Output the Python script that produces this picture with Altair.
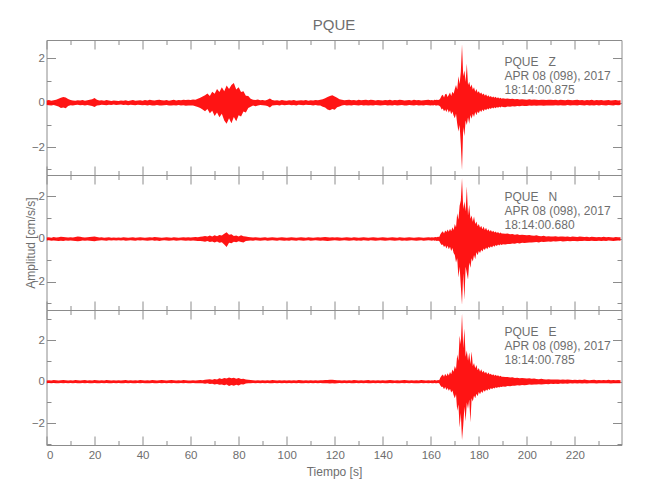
import altair as alt
import pandas as pd

# ---------------- text / axis data ----------------
TITLE = "PQUE"
STATION = "PQUE"
COMPONENTS = ["Z", "N", "E"]
DATE_LABEL = "APR 08 (098), 2017"
START_TIMES = ["18:14:00.875", "18:14:00.680", "18:14:00.785"]
X_TITLE = "Tiempo [s]"
Y_TITLE = "Amplitud [cm/s/s]"
X_DOMAIN = [0, 239.4]
Y_DOMAINS = [[-3.26, 2.83], [-3.32, 2.99], [-3.04, 3.44]]
X_LABEL_TICKS = [0, 20, 40, 60, 80, 100, 120, 140, 160, 180, 200, 220]
X_TICKS = [0, 10, 20, 30, 40, 50, 60, 70, 80, 90, 100, 110, 120, 130, 140,
           150, 160, 170, 180, 190, 200, 210, 220, 230]
Y_LABEL_TICKS = [-2, 0, 2]
Y_TICKS = [-3, -2, -1, 0, 1, 2, 3]

# ---------------- sampling times (s) ----------------
TIME = list(range(0, 160)) + [160 + 0.5 * i for i in range(60)] + list(range(190, 240))

# ---------------- envelope values ----------------
Z_UP = [
    0.10, 0.12, 0.09, 0.11, 0.13, 0.18, 0.22, 0.26, 0.24, 0.17,
    0.12, 0.10, 0.09, 0.11, 0.10, 0.12, 0.09, 0.11, 0.13, 0.16,
    0.21, 0.14, 0.10, 0.11, 0.09, 0.12, 0.10, 0.08, 0.10, 0.09,
    0.08, 0.10, 0.09, 0.11, 0.08, 0.10, 0.12, 0.09, 0.10, 0.11,
    0.09, 0.12, 0.10, 0.13, 0.11, 0.10, 0.12, 0.14, 0.11, 0.10,
    0.12, 0.09, 0.11, 0.13, 0.10, 0.12, 0.11, 0.14, 0.12, 0.13,
    0.12, 0.15, 0.14, 0.18, 0.22, 0.28, 0.34, 0.42, 0.30, 0.50,
    0.40, 0.62, 0.48, 0.70, 0.52, 0.78, 0.62, 0.80, 0.89, 0.60,
    0.70, 0.48, 0.52, 0.32, 0.30, 0.18, 0.14, 0.12, 0.15, 0.11,
    0.12, 0.10, 0.14, 0.19, 0.12, 0.10, 0.11, 0.09, 0.12, 0.10,
    0.09, 0.11, 0.10, 0.12, 0.09, 0.10, 0.11, 0.10, 0.12, 0.09,
    0.11, 0.10, 0.12, 0.11, 0.14, 0.16, 0.20, 0.26, 0.30, 0.34,
    0.28, 0.22, 0.16, 0.13, 0.11, 0.12, 0.14, 0.11, 0.12, 0.10,
    0.13, 0.11, 0.12, 0.14, 0.11, 0.13, 0.12, 0.10, 0.12, 0.11,
    0.10, 0.12, 0.11, 0.13, 0.10, 0.12, 0.11, 0.13, 0.12, 0.10,
    0.11, 0.12, 0.10, 0.13, 0.11, 0.12, 0.10, 0.11, 0.12, 0.13,
    # 160 - 189.5 (every 0.5 s)
    0.11, 0.12, 0.10, 0.13, 0.12, 0.14, 0.12, 0.13, 0.20, 0.32,
    0.36, 0.24, 0.38, 0.40, 0.26, 0.36, 0.46, 0.30, 0.50, 0.40,
    0.62, 0.80, 0.60, 1.20, 0.85, 1.40, 2.64, 1.20, 1.45, 0.95,
    1.77, 0.80, 0.95, 0.70, 0.82, 0.60, 0.70, 0.50, 0.62, 0.45,
    0.52, 0.40, 0.46, 0.36, 0.42, 0.32, 0.38, 0.28, 0.34, 0.26,
    0.30, 0.24, 0.28, 0.22, 0.27, 0.20, 0.25, 0.19, 0.23, 0.18,
    # 190 - 239
    0.20, 0.18, 0.19, 0.17, 0.18, 0.16, 0.17, 0.15, 0.16, 0.15,
    0.14, 0.16, 0.13, 0.15, 0.14, 0.12, 0.14, 0.13, 0.12, 0.14,
    0.13, 0.12, 0.14, 0.11, 0.13, 0.12, 0.11, 0.13, 0.12, 0.11,
    0.12, 0.13, 0.11, 0.12, 0.10, 0.12, 0.11, 0.13, 0.10, 0.12,
    0.11, 0.12, 0.10, 0.11, 0.12, 0.10, 0.11, 0.12, 0.10, 0.11,
]
Z_LO = [
    -0.10, -0.11, -0.12, -0.10, -0.14, -0.17, -0.24, -0.21, -0.25, -0.15,
    -0.11, -0.12, -0.10, -0.09, -0.11, -0.10, -0.12, -0.10, -0.12, -0.15,
    -0.19, -0.13, -0.11, -0.09, -0.10, -0.11, -0.09, -0.10, -0.08, -0.10,
    -0.09, -0.08, -0.10, -0.09, -0.11, -0.09, -0.10, -0.11, -0.09, -0.10,
    -0.11, -0.10, -0.12, -0.10, -0.12, -0.13, -0.10, -0.12, -0.13, -0.11,
    -0.10, -0.12, -0.13, -0.11, -0.12, -0.10, -0.13, -0.11, -0.14, -0.12,
    -0.13, -0.12, -0.16, -0.19, -0.24, -0.30, -0.38, -0.28, -0.48, -0.36,
    -0.60, -0.44, -0.66, -0.50, -0.80, -0.95, -0.70, -0.92, -0.64, -0.84,
    -0.56, -0.62, -0.40, -0.44, -0.24, -0.18, -0.13, -0.16, -0.12, -0.10,
    -0.11, -0.12, -0.15, -0.21, -0.13, -0.11, -0.10, -0.12, -0.09, -0.11,
    -0.10, -0.09, -0.11, -0.10, -0.12, -0.09, -0.10, -0.11, -0.09, -0.10,
    -0.10, -0.12, -0.10, -0.13, -0.12, -0.18, -0.22, -0.30, -0.34, -0.28,
    -0.32, -0.20, -0.17, -0.12, -0.10, -0.13, -0.11, -0.12, -0.10, -0.11,
    -0.12, -0.10, -0.13, -0.11, -0.12, -0.11, -0.13, -0.10, -0.11, -0.12,
    -0.11, -0.10, -0.12, -0.11, -0.13, -0.10, -0.12, -0.11, -0.10, -0.12,
    -0.12, -0.10, -0.11, -0.12, -0.10, -0.13, -0.11, -0.12, -0.10, -0.11,
    # 160 - 189.5
    -0.12, -0.11, -0.13, -0.10, -0.12, -0.13, -0.11, -0.14, -0.18, -0.30,
    -0.26, -0.38, -0.30, -0.42, -0.28, -0.45, -0.34, -0.52, -0.40, -0.58,
    -0.70, -0.50, -0.95, -1.30, -1.00, -1.90, -3.05, -1.10, -1.50, -0.80,
    -1.00, -0.65, -0.95, -0.55, -0.72, -0.50, -0.64, -0.42, -0.56, -0.40,
    -0.48, -0.34, -0.42, -0.30, -0.38, -0.28, -0.34, -0.26, -0.30, -0.24,
    -0.28, -0.22, -0.26, -0.20, -0.25, -0.19, -0.23, -0.18, -0.22, -0.17,
    # 190 - 239
    -0.19, -0.20, -0.17, -0.18, -0.16, -0.17, -0.15, -0.16, -0.14, -0.15,
    -0.15, -0.13, -0.14, -0.12, -0.14, -0.13, -0.12, -0.14, -0.12, -0.13,
    -0.12, -0.13, -0.11, -0.12, -0.11, -0.13, -0.12, -0.10, -0.12, -0.11,
    -0.11, -0.12, -0.10, -0.11, -0.12, -0.10, -0.12, -0.11, -0.12, -0.10,
    -0.12, -0.10, -0.11, -0.12, -0.10, -0.11, -0.12, -0.10, -0.11, -0.10,
]

N_UP = [
    0.07, 0.08, 0.06, 0.09, 0.07, 0.08, 0.10, 0.09, 0.08, 0.07,
    0.08, 0.07, 0.09, 0.12, 0.10, 0.08, 0.07, 0.08, 0.09, 0.10,
    0.12, 0.09, 0.07, 0.08, 0.06, 0.07, 0.08, 0.06, 0.07, 0.06,
    0.07, 0.06, 0.08, 0.07, 0.06, 0.07, 0.08, 0.06, 0.07, 0.08,
    0.07, 0.06, 0.07, 0.08, 0.07, 0.09, 0.08, 0.07, 0.06, 0.07,
    0.08, 0.07, 0.06, 0.08, 0.07, 0.06, 0.07, 0.08, 0.07, 0.08,
    0.07, 0.08, 0.09, 0.08, 0.10, 0.12, 0.14, 0.11, 0.16, 0.12,
    0.17, 0.13, 0.18, 0.16, 0.24, 0.31, 0.20, 0.22, 0.14, 0.16,
    0.12, 0.17, 0.13, 0.11, 0.09, 0.08, 0.07, 0.08, 0.07, 0.06,
    0.07, 0.08, 0.06, 0.07, 0.08, 0.07, 0.06, 0.07, 0.08, 0.07,
    0.06, 0.07, 0.08, 0.07, 0.06, 0.07, 0.08, 0.07, 0.06, 0.08,
    0.07, 0.06, 0.07, 0.08, 0.07, 0.08, 0.09, 0.08, 0.07, 0.08,
    0.07, 0.08, 0.07, 0.06, 0.07, 0.08, 0.07, 0.06, 0.08, 0.07,
    0.06, 0.07, 0.08, 0.07, 0.06, 0.07, 0.08, 0.07, 0.06, 0.07,
    0.08, 0.07, 0.06, 0.07, 0.08, 0.07, 0.06, 0.08, 0.07, 0.06,
    0.07, 0.08, 0.07, 0.06, 0.07, 0.08, 0.07, 0.06, 0.07, 0.08,
    # 160 - 189.5
    0.07, 0.08, 0.07, 0.08, 0.09, 0.08, 0.10, 0.09, 0.22, 0.30,
    0.36, 0.26, 0.40, 0.32, 0.44, 0.34, 0.48, 0.36, 0.55, 0.42,
    0.70, 0.55, 1.20, 0.90, 1.55, 1.80, 2.85, 1.40, 1.75, 1.30,
    2.46, 1.10, 1.60, 0.95, 1.10, 0.80, 1.05, 0.70, 0.82, 0.60,
    0.70, 0.52, 0.62, 0.46, 0.58, 0.42, 0.52, 0.38, 0.46, 0.35,
    0.42, 0.32, 0.38, 0.30, 0.35, 0.28, 0.32, 0.26, 0.30, 0.25,
    # 190 - 239
    0.26, 0.24, 0.25, 0.22, 0.23, 0.20, 0.22, 0.19, 0.20, 0.18,
    0.17, 0.19, 0.16, 0.15, 0.17, 0.14, 0.13, 0.15, 0.12, 0.13,
    0.12, 0.11, 0.13, 0.10, 0.12, 0.11, 0.10, 0.12, 0.09, 0.11,
    0.10, 0.09, 0.11, 0.10, 0.09, 0.10, 0.08, 0.10, 0.09, 0.08,
    0.09, 0.08, 0.10, 0.08, 0.09, 0.08, 0.07, 0.09, 0.08, 0.08,
]
N_LO = [
    -0.07, -0.06, -0.08, -0.07, -0.08, -0.09, -0.08, -0.10, -0.07, -0.08,
    -0.07, -0.08, -0.10, -0.11, -0.09, -0.07, -0.08, -0.07, -0.08, -0.09,
    -0.11, -0.08, -0.07, -0.06, -0.07, -0.08, -0.06, -0.07, -0.06, -0.07,
    -0.06, -0.07, -0.06, -0.08, -0.07, -0.06, -0.07, -0.08, -0.06, -0.07,
    -0.06, -0.07, -0.08, -0.07, -0.06, -0.08, -0.07, -0.09, -0.07, -0.06,
    -0.07, -0.08, -0.07, -0.06, -0.08, -0.07, -0.06, -0.07, -0.08, -0.07,
    -0.08, -0.07, -0.08, -0.09, -0.09, -0.11, -0.13, -0.10, -0.14, -0.12,
    -0.16, -0.12, -0.18, -0.15, -0.26, -0.37, -0.18, -0.20, -0.13, -0.15,
    -0.11, -0.14, -0.16, -0.10, -0.08, -0.07, -0.08, -0.06, -0.07, -0.08,
    -0.07, -0.06, -0.08, -0.07, -0.06, -0.07, -0.08, -0.06, -0.07, -0.08,
    -0.07, -0.08, -0.06, -0.07, -0.08, -0.06, -0.07, -0.08, -0.07, -0.06,
    -0.08, -0.07, -0.06, -0.07, -0.08, -0.07, -0.08, -0.09, -0.08, -0.07,
    -0.06, -0.07, -0.08, -0.07, -0.06, -0.07, -0.08, -0.07, -0.06, -0.08,
    -0.07, -0.08, -0.06, -0.07, -0.08, -0.06, -0.07, -0.08, -0.07, -0.06,
    -0.07, -0.08, -0.07, -0.06, -0.07, -0.08, -0.07, -0.06, -0.08, -0.07,
    -0.08, -0.07, -0.06, -0.07, -0.08, -0.07, -0.06, -0.08, -0.07, -0.06,
    # 160 - 189.5
    -0.07, -0.08, -0.06, -0.08, -0.07, -0.09, -0.08, -0.10, -0.20, -0.28,
    -0.26, -0.38, -0.30, -0.44, -0.32, -0.48, -0.36, -0.56, -0.42, -0.66,
    -0.75, -1.10, -0.90, -1.80, -1.30, -2.20, -3.07, -1.60, -2.84, -1.30,
    -1.60, -1.90, -1.10, -1.35, -0.90, -1.05, -0.75, -0.95, -0.62, -0.76,
    -0.56, -0.66, -0.50, -0.58, -0.44, -0.52, -0.40, -0.48, -0.36, -0.42,
    -0.34, -0.40, -0.30, -0.36, -0.28, -0.33, -0.26, -0.30, -0.25, -0.28,
    # 190 - 239
    -0.25, -0.26, -0.23, -0.24, -0.21, -0.22, -0.19, -0.21, -0.18, -0.19,
    -0.18, -0.16, -0.17, -0.15, -0.14, -0.16, -0.13, -0.14, -0.13, -0.12,
    -0.13, -0.11, -0.12, -0.11, -0.10, -0.12, -0.11, -0.10, -0.11, -0.09,
    -0.10, -0.11, -0.09, -0.10, -0.08, -0.10, -0.09, -0.08, -0.09, -0.10,
    -0.08, -0.09, -0.08, -0.09, -0.07, -0.08, -0.09, -0.08, -0.07, -0.08,
]

E_UP = [
    0.06, 0.07, 0.06, 0.08, 0.07, 0.06, 0.07, 0.08, 0.07, 0.06,
    0.07, 0.06, 0.08, 0.07, 0.06, 0.07, 0.08, 0.06, 0.07, 0.06,
    0.08, 0.07, 0.06, 0.07, 0.06, 0.08, 0.07, 0.06, 0.07, 0.06,
    0.07, 0.06, 0.07, 0.08, 0.06, 0.07, 0.06, 0.07, 0.06, 0.08,
    0.07, 0.06, 0.07, 0.06, 0.08, 0.07, 0.06, 0.07, 0.08, 0.07,
    0.06, 0.07, 0.08, 0.07, 0.06, 0.07, 0.06, 0.08, 0.07, 0.06,
    0.06, 0.07, 0.06, 0.07, 0.08, 0.07, 0.09, 0.10, 0.12, 0.09,
    0.13, 0.11, 0.16, 0.13, 0.18, 0.15, 0.20, 0.16, 0.19, 0.14,
    0.18, 0.13, 0.14, 0.10, 0.09, 0.08, 0.07, 0.06, 0.07, 0.06,
    0.07, 0.06, 0.07, 0.06, 0.08, 0.07, 0.06, 0.07, 0.06, 0.07,
    0.06, 0.07, 0.06, 0.07, 0.06, 0.08, 0.07, 0.06, 0.07, 0.06,
    0.07, 0.06, 0.07, 0.06, 0.07, 0.07, 0.08, 0.08, 0.09, 0.09,
    0.08, 0.07, 0.07, 0.06, 0.07, 0.06, 0.07, 0.06, 0.08, 0.07,
    0.06, 0.07, 0.06, 0.07, 0.08, 0.06, 0.07, 0.06, 0.07, 0.06,
    0.07, 0.06, 0.07, 0.08, 0.07, 0.06, 0.07, 0.06, 0.07, 0.08,
    0.07, 0.06, 0.07, 0.06, 0.07, 0.06, 0.08, 0.07, 0.06, 0.07,
    # 160 - 189.5
    0.06, 0.07, 0.06, 0.08, 0.07, 0.06, 0.08, 0.07, 0.20, 0.28,
    0.34, 0.24, 0.38, 0.26, 0.40, 0.30, 0.46, 0.36, 0.58, 0.48,
    0.75, 0.60, 1.30, 1.00, 2.20, 1.80, 3.29, 1.60, 2.55, 1.20,
    1.50, 1.00, 1.40, 0.85, 1.45, 0.75, 0.90, 0.65, 0.80, 0.55,
    0.66, 0.48, 0.60, 0.44, 0.52, 0.40, 0.48, 0.36, 0.44, 0.34,
    0.38, 0.31, 0.36, 0.29, 0.33, 0.27, 0.31, 0.25, 0.28, 0.24,
    # 190 - 239
    0.24, 0.22, 0.23, 0.20, 0.21, 0.18, 0.19, 0.17, 0.18, 0.16,
    0.15, 0.16, 0.14, 0.15, 0.13, 0.12, 0.14, 0.12, 0.11, 0.12,
    0.11, 0.10, 0.11, 0.10, 0.09, 0.11, 0.09, 0.10, 0.09, 0.08,
    0.09, 0.08, 0.09, 0.08, 0.10, 0.08, 0.07, 0.08, 0.09, 0.07,
    0.08, 0.07, 0.08, 0.07, 0.09, 0.07, 0.08, 0.07, 0.08, 0.07,
]
E_LO = [
    -0.07, -0.06, -0.07, -0.06, -0.08, -0.07, -0.06, -0.07, -0.06, -0.08,
    -0.06, -0.07, -0.06, -0.08, -0.07, -0.06, -0.07, -0.06, -0.08, -0.07,
    -0.06, -0.07, -0.08, -0.06, -0.07, -0.06, -0.07, -0.08, -0.06, -0.07,
    -0.06, -0.08, -0.07, -0.06, -0.07, -0.06, -0.08, -0.07, -0.06, -0.07,
    -0.06, -0.07, -0.08, -0.07, -0.06, -0.07, -0.08, -0.06, -0.07, -0.06,
    -0.07, -0.06, -0.07, -0.06, -0.08, -0.07, -0.06, -0.07, -0.06, -0.07,
    -0.07, -0.06, -0.07, -0.08, -0.07, -0.08, -0.10, -0.08, -0.11, -0.10,
    -0.14, -0.11, -0.15, -0.13, -0.17, -0.14, -0.21, -0.16, -0.19, -0.15,
    -0.18, -0.12, -0.13, -0.09, -0.08, -0.07, -0.06, -0.07, -0.06, -0.07,
    -0.06, -0.07, -0.06, -0.08, -0.07, -0.06, -0.07, -0.06, -0.07, -0.06,
    -0.07, -0.06, -0.08, -0.06, -0.07, -0.06, -0.07, -0.08, -0.06, -0.07,
    -0.06, -0.07, -0.06, -0.07, -0.06, -0.08, -0.07, -0.08, -0.09, -0.08,
    -0.09, -0.07, -0.06, -0.07, -0.06, -0.07, -0.06, -0.08, -0.07, -0.06,
    -0.07, -0.06, -0.07, -0.06, -0.07, -0.08, -0.06, -0.07, -0.06, -0.07,
    -0.06, -0.07, -0.08, -0.06, -0.07, -0.06, -0.07, -0.08, -0.06, -0.07,
    -0.06, -0.07, -0.06, -0.07, -0.08, -0.07, -0.06, -0.07, -0.06, -0.07,
    # 160 - 189.5
    -0.06, -0.07, -0.08, -0.06, -0.07, -0.08, -0.06, -0.07, -0.18, -0.26,
    -0.24, -0.36, -0.26, -0.40, -0.30, -0.44, -0.34, -0.52, -0.42, -0.64,
    -0.80, -0.60, -1.40, -1.10, -2.20, -1.50, -2.80, -2.10, -1.20, -1.90,
    -1.00, -1.30, -0.85, -1.95, -0.80, -0.95, -0.66, -0.80, -0.58, -0.70,
    -0.50, -0.60, -0.46, -0.54, -0.40, -0.48, -0.38, -0.44, -0.34, -0.40,
    -0.30, -0.36, -0.29, -0.33, -0.27, -0.30, -0.25, -0.28, -0.24, -0.26,
    # 190 - 239
    -0.23, -0.24, -0.21, -0.22, -0.19, -0.20, -0.17, -0.18, -0.16, -0.17,
    -0.16, -0.14, -0.15, -0.13, -0.14, -0.12, -0.13, -0.12, -0.11, -0.12,
    -0.10, -0.11, -0.10, -0.11, -0.09, -0.10, -0.09, -0.10, -0.08, -0.09,
    -0.08, -0.09, -0.08, -0.09, -0.07, -0.09, -0.08, -0.07, -0.08, -0.09,
    -0.07, -0.08, -0.07, -0.08, -0.07, -0.09, -0.07, -0.08, -0.07, -0.08,
]

UPS = [Z_UP, N_UP, E_UP]
LOS = [Z_LO, N_LO, E_LO]

# ---------------- styling ----------------
W, H = 575, 135
FONT = "Liberation Sans"
GREY = "#8c8c8c"
TXT = "#6e6e6e"
RED = "#ff0000"

TICK_X = {"condition": {"test": "datum.value % 20 === 0", "value": 9}, "value": 4.5}
TICK_Y = {"condition": {"test": "datum.value % 2 === 0", "value": 9}, "value": 4.5}


def panel(i):
    df = pd.DataFrame({"t": TIME, "up": UPS[i], "lo": LOS[i]})
    ydom = Y_DOMAINS[i]
    xs = alt.Scale(domain=X_DOMAIN, nice=False, zero=False)
    ys = alt.Scale(domain=ydom, nice=False, zero=False)
    bottom = i == 2
    middle = i == 1
    yt = [v for v in Y_TICKS if ydom[0] <= v <= ydom[1]]

    x_axis = alt.Axis(orient="bottom", values=X_LABEL_TICKS, labels=bottom, ticks=False,
                      domain=False, grid=False, title=X_TITLE if bottom else "",
                      labelPadding=4, titlePadding=6)
    if middle:
        y_axis = alt.Axis(orient="left", values=Y_LABEL_TICKS, ticks=False, domain=False,
                          grid=False, title=Y_TITLE, labelPadding=2,
                          titleX=-16, titleY=H / 2, titleBaseline="middle", titleAngle=270)
    else:
        y_axis = alt.Axis(orient="left", values=Y_LABEL_TICKS, ticks=False, domain=False,
                          grid=False, title="", labelPadding=2)

    trace = alt.Chart(df).mark_area(color=RED, opacity=0.92, clip=True,
                                    interpolate="linear").encode(
        x=alt.X("t:Q", scale=xs, axis=x_axis),
        y=alt.Y("up:Q", scale=ys, axis=y_axis),
        y2="lo:Q",
    )

    anchor = pd.DataFrame({"t": [X_DOMAIN[0]], "v": [0]})

    def tick_layer(xorient, yorient):
        return alt.Chart(anchor).mark_point(opacity=0).encode(
            x=alt.X("t:Q", scale=xs,
                    axis=alt.Axis(orient=xorient, offset=-H, values=X_TICKS, labels=False,
                                  domain=False, grid=False, title="", tickSize=TICK_X,
                                  tickColor=GREY)),
            y=alt.Y("v:Q", scale=ys,
                    axis=alt.Axis(orient=yorient, offset=-W, values=yt, labels=False,
                                  domain=False, grid=False, title="", tickSize=TICK_Y,
                                  tickColor=GREY)),
        )

    label_df = pd.DataFrame({"txt": [
        f"{STATION}\u00a0\u00a0\u00a0{COMPONENTS[i]}\n{DATE_LABEL}\n{START_TIMES[i]}"
    ]})
    text = alt.Chart(label_df).mark_text(
        align="left", baseline="middle", lineBreak="\n", lineHeight=14.2,
        font=FONT, fontSize=12, color=TXT
    ).encode(x=alt.value(458), y=alt.value(21.7), text="txt:N")

    return alt.layer(trace, tick_layer("top", "right"), tick_layer("bottom", "left"), text).resolve_axis(
        x="independent", y="independent"
    ).properties(width=W, height=H)


chart = alt.vconcat(panel(0), panel(1), panel(2), spacing=0, bounds="flush").properties(
    title=alt.TitleParams(TITLE, fontSize=15, font=FONT, color=TXT, fontWeight="normal",
                          anchor="middle", frame="group", offset=6),
    padding={"left": 15.5, "top": 10, "right": 5, "bottom": 5},
).configure_view(stroke=GREY, strokeWidth=1).configure_axis(
    labelFont=FONT, labelFontSize=11.5, labelColor=TXT,
    titleFont=FONT, titleFontSize=12, titleColor=TXT, titleFontWeight="normal",
)

chart.save("out.html", embed_options={"renderer": "svg", "actions": False})
